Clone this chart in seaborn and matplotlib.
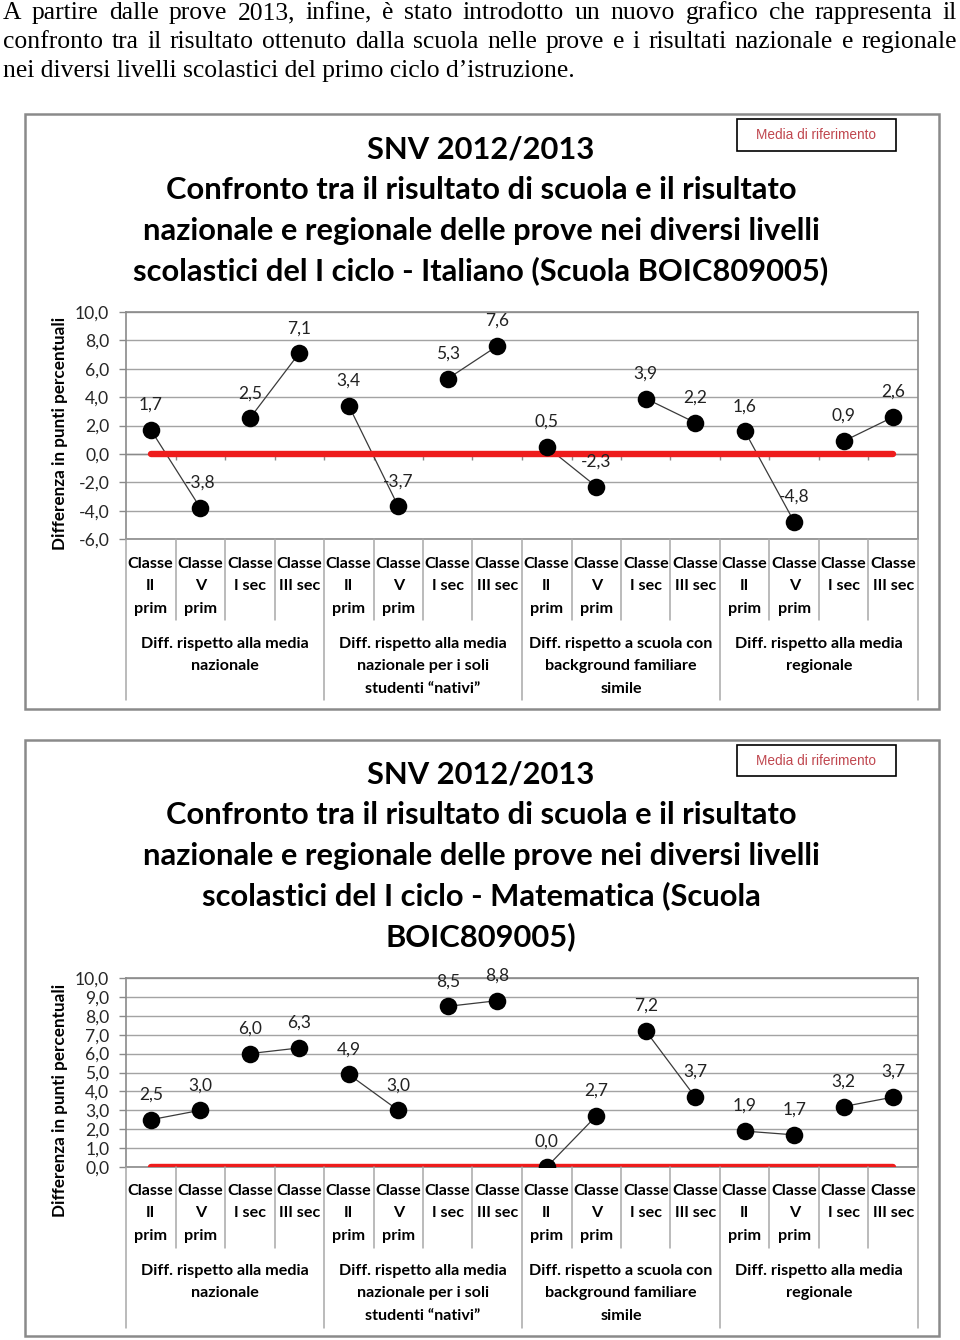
import numpy as np
import pandas as pd
import matplotlib
matplotlib.use("Agg")
import matplotlib.pyplot as plt
import seaborn as sns
from matplotlib.patches import Rectangle
from matplotlib.lines import Line2D
from matplotlib import transforms

# ---------------- data ----------------
categorie = ["Classe\nII\nprim", "Classe\nV\nprim", "Classe\nI sec", "Classe\nIII sec"] * 4
gruppi = [
    "Diff. rispetto alla media\nnazionale",
    "Diff. rispetto alla media\nnazionale per i soli\nstudenti \u201cnativi\u201d",
    "Diff. rispetto a scuola con\nbackground familiare\nsimile",
    "Diff. rispetto alla media\nregionale",
]
italiano = [1.7, -3.8, 2.5, 7.1, 3.4, -3.7, 5.3, 7.6, 0.5, -2.3, 3.9, 2.2, 1.6, -4.8, 0.9, 2.6]
matematica = [2.5, 3.0, 6.0, 6.3, 4.9, 3.0, 8.5, 8.8, 0.0, 2.7, 7.2, 3.7, 1.9, 1.7, 3.2, 3.7]
riferimento = [0.0] * 16
yticks_ita = [-6, -4, -2, 0, 2, 4, 6, 8, 10]
yticks_mat = [0, 1, 2, 3, 4, 5, 6, 7, 8, 9, 10]
titolo_ita = ["SNV 2012/2013",
              "Confronto tra il risultato di scuola e il risultato",
              "nazionale e regionale delle prove nei diversi livelli",
              "scolastici del I ciclo - Italiano (Scuola BOIC809005)"]
titolo_mat = ["SNV 2012/2013",
              "Confronto tra il risultato di scuola e il risultato",
              "nazionale e regionale delle prove nei diversi livelli",
              "scolastici del I ciclo - Matematica (Scuola",
              "BOIC809005)"]
paragrafo = ["A partire dalle prove 2013, infine, \u00e8 stato introdotto un nuovo grafico che rappresenta il",
             "confronto tra il risultato ottenuto dalla scuola nelle prove e i risultati nazionale e regionale",
             "nei diversi livelli scolastici del primo ciclo d\u2019istruzione."]
legenda = "Media di riferimento"
ylabel = "Differenza in punti percentuali"

# ---------------- setup ----------------
sns.set_theme(style="white")
plt.rcParams["font.family"] = ["Lato", "DejaVu Sans"]

W, H = 960, 1340
fig = plt.figure(figsize=(W / 100, H / 100), dpi=100)
fig.patch.set_facecolor("white")
renderer = fig.canvas.get_renderer()


def fx(x):
    return x / W


def fy(y):
    return 1 - y / H


def fmt(v):
    return f"{v:.1f}".replace(".", ",")


# ---------------- paragraph (justified) ----------------
serif = ["Liberation Serif", "DejaVu Serif"]
probe = fig.text(0, 0, paragrafo[2], fontsize=10, family=serif)
w10 = probe.get_window_extent(renderer).width
probe.remove()
fs_par = 10 * 572 / w10
line_y = [13, 42, 71]
for i, line in enumerate(paragrafo):
    words = line.split(" ")
    if i < len(paragrafo) - 1:
        ts = [fig.text(0, fy(line_y[i]), w, fontsize=fs_par, family=serif,
                       va="center", ha="left", color="black") for w in words]
        widths = [t.get_window_extent(renderer).width for t in ts]
        gap = (957 - 3 - sum(widths)) / (len(words) - 1)
        x = 3
        for t, wd in zip(ts, widths):
            t.set_x(fx(x))
            x += wd + gap
    else:
        fig.text(fx(3), fy(line_y[i]), line, fontsize=fs_par, family=serif,
                 va="center", ha="left", color="black")


# ---------------- chart drawing ----------------
def draw_chart(frame, title_lines, title_y0, box, values, yticks, ylim,
               row_ys, short_end, group_ys, group_end, ylab_y, legend_box, zero_ticks):
    # outer frame
    fig.patches.append(Rectangle((fx(frame[0]), fy(frame[3])), fx(frame[2] - frame[0]),
                                 (frame[3] - frame[1]) / H, transform=fig.transFigure,
                                 fill=False, ec="#8a8a8a", lw=1.8, zorder=0))
    # legend box
    fig.patches.append(Rectangle((fx(legend_box[0]), fy(legend_box[3])),
                                 fx(legend_box[2] - legend_box[0]),
                                 (legend_box[3] - legend_box[1]) / H, transform=fig.transFigure,
                                 fill=False, ec="black", lw=1.2))
    fig.text(fx((legend_box[0] + legend_box[2]) / 2), fy((legend_box[1] + legend_box[3]) / 2),
             legenda, ha="center", va="center", fontsize=9.8, color="#c0474f",
             family=["Liberation Sans", "DejaVu Sans"])
    # title
    for k, t in enumerate(title_lines):
        fig.text(fx(481), fy(title_y0 + 40.3 * k), t, ha="center", va="center",
                 fontsize=22.2, fontweight="bold", color="black")
    # axes
    l, t_, r, b = box
    ax = fig.add_axes([fx(l), fy(b), fx(r - l), (b - t_) / H])
    xs = np.arange(len(values))
    df = pd.DataFrame({"x": xs, "y": values, "coppia": xs // 2})
    sns.lineplot(data=df, x="x", y="y", units="coppia", estimator=None,
                 color="#3a3a3a", lw=0.9, ax=ax, zorder=3)
    ref = pd.DataFrame({"x": xs, "y": riferimento})
    sns.lineplot(data=ref, x="x", y="y", color="#ee1c1c", lw=4.6, ax=ax, zorder=4,
                 solid_capstyle="round")
    sns.scatterplot(data=df, x="x", y="y", color="black", s=160, ax=ax, zorder=5,
                    edgecolor="black", linewidth=0)
    for xv, yv in zip(xs, values):
        ax.annotate(fmt(yv), (xv, yv), xytext=(0, 18), textcoords="offset points",
                    ha="center", va="center", fontsize=12.5, color="#222222", zorder=6,
                    annotation_clip=False)
    ax.set_xlim(-0.5, len(values) - 0.5)
    ax.set_ylim(*ylim)
    ax.set_yticks(yticks)
    ax.set_yticklabels([fmt(v) for v in yticks])
    ax.set_xticks([])
    ax.set_xlabel("")
    ax.set_ylabel("")
    ax.yaxis.grid(True, color="#a3a3a3", lw=1.0)
    ax.set_axisbelow(True)
    for s in ax.spines.values():
        s.set_color("#8a8a8a")
        s.set_linewidth(1.2)
    ax.tick_params(axis="y", length=5, width=1, color="#8a8a8a", labelsize=12.6,
                   labelcolor="#262626", pad=7, left=True)
    if zero_ticks:
        ax.axhline(0, color="#8a8a8a", lw=1, zorder=2)
        ax.vlines(np.arange(-0.5, len(values), 1.0)[1:-1], -0.42, 0,
                  color="#8a8a8a", lw=1, zorder=2)
    # y label
    fig.text(fx(60), fy(ylab_y), ylabel, rotation=90, ha="center", va="center",
             fontsize=12.3, fontweight="bold", color="black")
    # category table below
    tr = transforms.blended_transform_factory(ax.transData, fig.transFigure)
    for i, bnd in enumerate(np.arange(-0.5, len(values) + 0.5, 1.0)):
        is_group = (i % 4 == 0)
        end = group_end if is_group else short_end
        fig.add_artist(Line2D([bnd, bnd], [fy(b), fy(end)], transform=tr,
                              color="#a8a8a8", lw=1.1))
    for i, lab in enumerate(categorie):
        for j, part in enumerate(lab.split("\n")):
            fig.text(i, fy(row_ys[j]), part, transform=tr, ha="center", va="center",
                     fontsize=11.6, fontweight="bold", color="black")
    for g, lab in enumerate(gruppi):
        for j, part in enumerate(lab.split("\n")):
            fig.text(4 * g + 1.5, fy(group_ys[j]), part, transform=tr, ha="center",
                     va="center", fontsize=11.6, fontweight="bold", color="black")
    return ax


draw_chart(frame=(25, 114, 939, 709), title_lines=titolo_ita, title_y0=150,
           box=(126, 312, 918, 539), values=italiano, yticks=yticks_ita, ylim=(-6, 10),
           row_ys=[564, 586, 609], short_end=620, group_ys=[644, 666, 689], group_end=700,
           ylab_y=433, legend_box=(737, 119, 896, 151), zero_ticks=True)

draw_chart(frame=(25, 740, 939, 1336), title_lines=titolo_mat, title_y0=775,
           box=(126, 978, 918, 1167), values=matematica, yticks=yticks_mat, ylim=(0, 10),
           row_ys=[1191, 1213, 1236], short_end=1248, group_ys=[1271, 1293, 1316],
           group_end=1328, ylab_y=1100, legend_box=(737, 745, 896, 776), zero_ticks=False)

fig.savefig("out.png", dpi=100, facecolor="white")
